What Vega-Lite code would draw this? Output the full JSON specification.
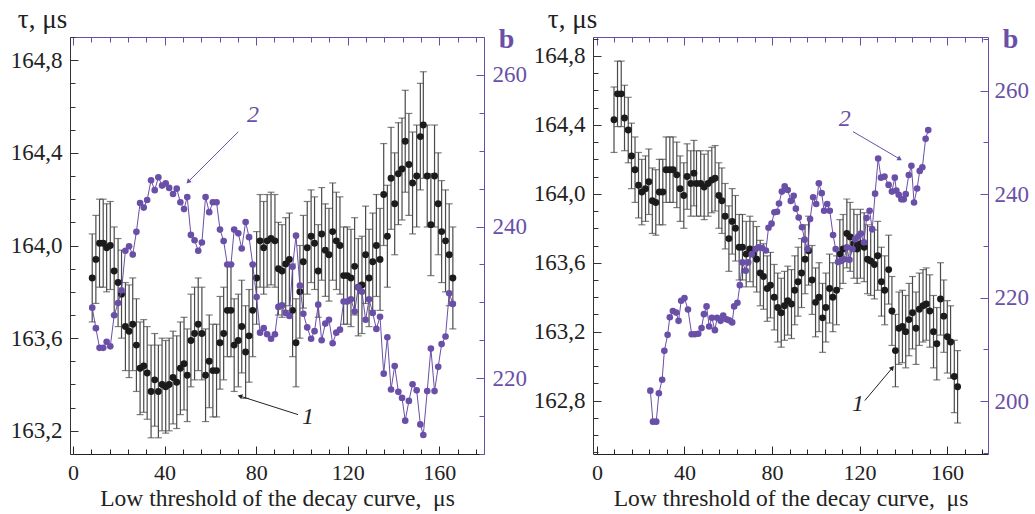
{
  "$schema": "https://vega.github.io/schema/vega-lite/v6.json",
  "padding": {"left": 10, "top": 5, "right": 5, "bottom": 5},
  "config": {
    "font": "Liberation Serif",
    "view": {"stroke": null},
    "axis": {"grid": false, "labelFont": "Liberation Serif", "labelFontSize": 22, "labelColor": "#222", "domainColor": "#333", "tickColor": "#333", "titleFont": "Liberation Serif", "titleFontSize": 23.5, "titleFontWeight": "normal", "titleColor": "#222", "labelOverlap": false, "labelFlush": false, "labelBound": false},
    "concat": {"spacing": 6}
  },
  "datasets": {
    "leftTau": [
      {"x":8.4,"tau":163.86,"err":0.19},{"x":10.0,"tau":163.94,"err":0.19},{"x":11.6,"tau":164.01,"err":0.19},{"x":13.2,"tau":164.01,"err":0.19},{"x":14.7,"tau":163.99,"err":0.19},{"x":16.3,"tau":164.00,"err":0.19},{"x":18.0,"tau":163.89,"err":0.19},{"x":19.7,"tau":163.84,"err":0.19},{"x":21.2,"tau":163.79,"err":0.19},{"x":22.9,"tau":163.65,"err":0.19},
      {"x":24.5,"tau":163.63,"err":0.2},{"x":26.1,"tau":163.66,"err":0.2},{"x":27.7,"tau":163.57,"err":0.2},{"x":29.3,"tau":163.47,"err":0.2},{"x":30.9,"tau":163.48,"err":0.2},{"x":32.4,"tau":163.45,"err":0.2},{"x":34.1,"tau":163.37,"err":0.2},{"x":35.7,"tau":163.42,"err":0.2},{"x":37.3,"tau":163.37,"err":0.2},{"x":38.9,"tau":163.40,"err":0.2},
      {"x":40.5,"tau":163.39,"err":0.2},{"x":42.0,"tau":163.40,"err":0.2},{"x":43.7,"tau":163.43,"err":0.2},{"x":45.3,"tau":163.41,"err":0.2},{"x":46.9,"tau":163.47,"err":0.2},{"x":48.5,"tau":163.49,"err":0.2},{"x":49.9,"tau":163.44,"err":0.2},{"x":51.5,"tau":163.59,"err":0.2},{"x":53.1,"tau":163.62,"err":0.2},{"x":54.7,"tau":163.66,"err":0.2},
      {"x":56.3,"tau":163.62,"err":0.2},{"x":57.9,"tau":163.44,"err":0.2},{"x":59.5,"tau":163.50,"err":0.2},{"x":61.1,"tau":163.46,"err":0.2},{"x":62.7,"tau":163.46,"err":0.2},{"x":64.2,"tau":163.58,"err":0.2},{"x":65.8,"tau":163.62,"err":0.2},{"x":67.4,"tau":163.72,"err":0.2},{"x":69.0,"tau":163.72,"err":0.2},{"x":70.4,"tau":163.57,"err":0.2},
      {"x":72.2,"tau":163.59,"err":0.2},{"x":73.7,"tau":163.65,"err":0.2},{"x":75.4,"tau":163.54,"err":0.2},{"x":76.9,"tau":163.61,"err":0.2},{"x":78.5,"tau":163.72,"err":0.2},{"x":80.2,"tau":163.86,"err":0.2},{"x":81.7,"tau":164.02,"err":0.2},{"x":83.3,"tau":163.99,"err":0.2},{"x":84.8,"tau":164.02,"err":0.2},{"x":86.5,"tau":164.03,"err":0.2},
      {"x":88.2,"tau":164.02,"err":0.2},{"x":89.7,"tau":163.90,"err":0.2},{"x":91.3,"tau":163.89,"err":0.2},{"x":92.9,"tau":163.92,"err":0.2},{"x":94.5,"tau":163.94,"err":0.2},{"x":95.9,"tau":163.72,"err":0.2},{"x":97.4,"tau":163.58,"err":0.19},{"x":99.1,"tau":163.80,"err":0.2},{"x":100.6,"tau":163.93,"err":0.2},{"x":102.3,"tau":163.99,"err":0.2},
      {"x":104.0,"tau":164.04,"err":0.2},{"x":105.5,"tau":164.01,"err":0.2},{"x":107.1,"tau":163.89,"err":0.2},{"x":108.6,"tau":164.05,"err":0.2},{"x":110.2,"tau":163.98,"err":0.2},{"x":111.8,"tau":163.96,"err":0.2},{"x":113.4,"tau":164.06,"err":0.21},{"x":115.0,"tau":164.02,"err":0.21},{"x":116.6,"tau":164.00,"err":0.21},{"x":118.2,"tau":163.87,"err":0.21},
      {"x":119.8,"tau":163.87,"err":0.21},{"x":121.4,"tau":163.86,"err":0.21},{"x":123.0,"tau":163.91,"err":0.21},{"x":124.6,"tau":163.82,"err":0.21},{"x":126.2,"tau":163.83,"err":0.21},{"x":127.8,"tau":163.96,"err":0.21},{"x":129.3,"tau":163.86,"err":0.21},{"x":130.9,"tau":163.93,"err":0.21},{"x":132.5,"tau":164.00,"err":0.22},{"x":134.1,"tau":163.94,"err":0.22},
      {"x":135.7,"tau":164.22,"err":0.22},{"x":137.3,"tau":164.04,"err":0.22},{"x":138.9,"tau":164.29,"err":0.22},{"x":140.5,"tau":164.18,"err":0.22},{"x":142.1,"tau":164.31,"err":0.22},{"x":143.7,"tau":164.33,"err":0.22},{"x":145.1,"tau":164.45,"err":0.22},{"x":146.7,"tau":164.35,"err":0.22},{"x":148.3,"tau":164.27,"err":0.22},{"x":150.1,"tau":164.30,"err":0.22},
      {"x":151.7,"tau":164.47,"err":0.23},{"x":153.0,"tau":164.52,"err":0.23},{"x":154.7,"tau":164.30,"err":0.22},{"x":156.3,"tau":164.09,"err":0.22},{"x":157.9,"tau":164.30,"err":0.22},{"x":159.5,"tau":164.18,"err":0.22},{"x":161.0,"tau":164.06,"err":0.22},{"x":162.7,"tau":164.02,"err":0.22},{"x":164.3,"tau":163.96,"err":0.22},{"x":165.9,"tau":163.86,"err":0.22}
    ],
    "leftB": [
      {"x":8.4,"b":229.3},{"x":10.0,"b":226.6},{"x":11.6,"b":224.0},{"x":13.2,"b":224.0},{"x":14.7,"b":224.8},{"x":16.3,"b":224.2},{"x":18.0,"b":228.3},{"x":19.7,"b":229.9},{"x":21.2,"b":231.6},{"x":22.9,"b":236.8},
      {"x":24.5,"b":237.4},{"x":26.1,"b":236.3},{"x":27.7,"b":239.3},{"x":29.3,"b":243.1},{"x":30.9,"b":242.5},{"x":32.4,"b":243.5},{"x":34.1,"b":246.1},{"x":35.7,"b":244.8},{"x":37.3,"b":246.5},{"x":38.9,"b":245.4},
      {"x":40.5,"b":245.7},{"x":42.0,"b":245.1},{"x":43.7,"b":244.3},{"x":45.3,"b":245.0},{"x":46.9,"b":243.2},{"x":48.5,"b":242.3},{"x":49.9,"b":243.9},{"x":51.5,"b":238.9},{"x":53.1,"b":238.2},{"x":54.7,"b":236.8},
      {"x":56.3,"b":237.9},{"x":57.9,"b":243.9},{"x":59.5,"b":241.9},{"x":61.1,"b":243.2},{"x":62.7,"b":243.2},{"x":64.2,"b":239.6},{"x":65.8,"b":238.1},{"x":67.4,"b":235.0},{"x":69.0,"b":235.0},{"x":70.4,"b":239.6},
      {"x":72.2,"b":239.1},{"x":73.7,"b":237.1},{"x":75.4,"b":240.6},{"x":76.9,"b":238.6},{"x":78.5,"b":235.0},{"x":80.2,"b":230.7},{"x":81.7,"b":226.0},{"x":83.3,"b":226.6},{"x":84.8,"b":225.8},{"x":86.5,"b":225.2},
      {"x":88.2,"b":225.8},{"x":89.7,"b":229.4},{"x":91.3,"b":229.6},{"x":92.9,"b":228.6},{"x":94.5,"b":228.2},{"x":95.9,"b":234.7},{"x":97.4,"b":238.8},{"x":99.1,"b":232.2},{"x":100.6,"b":228.5},{"x":102.3,"b":226.7},
      {"x":104.0,"b":225.2},{"x":105.5,"b":226.2},{"x":107.1,"b":229.7},{"x":108.6,"b":225.0},{"x":110.2,"b":227.2},{"x":111.8,"b":227.7},{"x":113.4,"b":224.6},{"x":115.0,"b":226.0},{"x":116.6,"b":226.4},{"x":118.2,"b":230.1},
      {"x":119.8,"b":230.1},{"x":121.4,"b":230.4},{"x":123.0,"b":228.8},{"x":124.6,"b":232.0},{"x":126.2,"b":231.4},{"x":127.8,"b":227.7},{"x":129.3,"b":230.4},{"x":130.9,"b":228.6},{"x":132.5,"b":226.5},{"x":134.1,"b":228.1},
      {"x":135.7,"b":220.6},{"x":137.3,"b":225.4},{"x":138.9,"b":218.5},{"x":140.5,"b":221.6},{"x":142.1,"b":218.2},{"x":143.7,"b":217.4},{"x":145.1,"b":214.4},{"x":146.7,"b":217.0},{"x":148.3,"b":219.2},{"x":150.1,"b":218.4},
      {"x":151.7,"b":213.9},{"x":153.0,"b":212.5},{"x":154.7,"b":218.3},{"x":156.3,"b":223.9},{"x":157.9,"b":218.3},{"x":159.5,"b":221.5},{"x":161.0,"b":224.5},{"x":162.7,"b":225.5},{"x":164.3,"b":231.2},{"x":165.9,"b":229.8}
    ],
    "rightTau": [
      {"x":7.8,"tau":164.43,"err":0.19},{"x":9.4,"tau":164.58,"err":0.19},{"x":11.1,"tau":164.58,"err":0.19},{"x":12.6,"tau":164.44,"err":0.19},{"x":14.3,"tau":164.37,"err":0.19},{"x":15.8,"tau":164.22,"err":0.19},{"x":17.4,"tau":164.14,"err":0.19},{"x":19.0,"tau":164.05,"err":0.19},{"x":20.5,"tau":164.01,"err":0.19},{"x":22.2,"tau":164.03,"err":0.19},
      {"x":23.7,"tau":164.07,"err":0.19},{"x":25.3,"tau":163.96,"err":0.19},{"x":26.9,"tau":163.95,"err":0.19},{"x":28.5,"tau":164.01,"err":0.19},{"x":30.1,"tau":164.01,"err":0.19},{"x":31.6,"tau":164.14,"err":0.19},{"x":33.3,"tau":164.14,"err":0.19},{"x":34.8,"tau":164.14,"err":0.19},{"x":36.5,"tau":164.11,"err":0.19},{"x":38.0,"tau":164.03,"err":0.19},
      {"x":39.7,"tau":163.99,"err":0.19},{"x":41.2,"tau":164.10,"err":0.19},{"x":42.9,"tau":164.06,"err":0.19},{"x":44.3,"tau":164.12,"err":0.19},{"x":45.5,"tau":164.06,"err":0.19},{"x":47.4,"tau":164.06,"err":0.19},{"x":49.0,"tau":164.04,"err":0.19},{"x":50.8,"tau":164.06,"err":0.19},{"x":52.5,"tau":164.08,"err":0.19},{"x":54.0,"tau":164.09,"err":0.19},
      {"x":55.7,"tau":163.99,"err":0.19},{"x":57.1,"tau":163.96,"err":0.19},{"x":58.6,"tau":163.87,"err":0.19},{"x":60.3,"tau":163.74,"err":0.19},{"x":61.8,"tau":163.84,"err":0.19},{"x":63.3,"tau":163.80,"err":0.19},{"x":65.0,"tau":163.69,"err":0.19},{"x":66.5,"tau":163.69,"err":0.19},{"x":68.2,"tau":163.65,"err":0.19},{"x":69.9,"tau":163.68,"err":0.19},
      {"x":71.4,"tau":163.65,"err":0.19},{"x":73.0,"tau":163.62,"err":0.19},{"x":74.6,"tau":163.54,"err":0.19},{"x":76.1,"tau":163.52,"err":0.19},{"x":77.8,"tau":163.45,"err":0.19},{"x":79.3,"tau":163.47,"err":0.19},{"x":81.0,"tau":163.40,"err":0.19},{"x":82.6,"tau":163.34,"err":0.2},{"x":84.2,"tau":163.31,"err":0.2},{"x":85.7,"tau":163.35,"err":0.2},
      {"x":87.2,"tau":163.38,"err":0.2},{"x":88.9,"tau":163.36,"err":0.2},{"x":90.4,"tau":163.44,"err":0.2},{"x":91.9,"tau":163.49,"err":0.2},{"x":93.5,"tau":163.54,"err":0.2},{"x":95.1,"tau":163.62,"err":0.2},{"x":96.7,"tau":163.67,"err":0.2},{"x":98.3,"tau":163.50,"err":0.2},{"x":99.9,"tau":163.37,"err":0.2},{"x":101.5,"tau":163.40,"err":0.2},
      {"x":103.1,"tau":163.28,"err":0.2},{"x":104.6,"tau":163.34,"err":0.2},{"x":106.3,"tau":163.45,"err":0.2},{"x":107.8,"tau":163.40,"err":0.2},{"x":109.5,"tau":163.44,"err":0.2},{"x":111.0,"tau":163.65,"err":0.2},{"x":112.5,"tau":163.68,"err":0.2},{"x":114.2,"tau":163.77,"err":0.2},{"x":115.7,"tau":163.75,"err":0.2},{"x":117.4,"tau":163.71,"err":0.2},
      {"x":118.9,"tau":163.68,"err":0.2},{"x":120.4,"tau":163.71,"err":0.2},{"x":122.1,"tau":163.69,"err":0.2},{"x":123.6,"tau":163.62,"err":0.2},{"x":125.1,"tau":163.61,"err":0.2},{"x":126.8,"tau":163.59,"err":0.2},{"x":128.3,"tau":163.64,"err":0.2},{"x":130.0,"tau":163.49,"err":0.2},{"x":131.5,"tau":163.44,"err":0.2},{"x":133.3,"tau":163.56,"err":0.2},
      {"x":134.8,"tau":163.32,"err":0.2},{"x":136.4,"tau":163.09,"err":0.21},{"x":138.0,"tau":163.22,"err":0.21},{"x":139.6,"tau":163.23,"err":0.21},{"x":141.1,"tau":163.20,"err":0.21},{"x":142.6,"tau":163.27,"err":0.21},{"x":144.2,"tau":163.31,"err":0.21},{"x":145.8,"tau":163.22,"err":0.21},{"x":147.3,"tau":163.33,"err":0.21},{"x":149.0,"tau":163.35,"err":0.21},
      {"x":150.5,"tau":163.36,"err":0.21},{"x":152.1,"tau":163.32,"err":0.21},{"x":153.8,"tau":163.20,"err":0.21},{"x":155.3,"tau":163.13,"err":0.21},{"x":157.0,"tau":163.39,"err":0.21},{"x":158.5,"tau":163.29,"err":0.21},{"x":160.1,"tau":163.17,"err":0.21},{"x":161.6,"tau":163.14,"err":0.21},{"x":163.3,"tau":162.94,"err":0.21},{"x":164.8,"tau":162.88,"err":0.21}
    ],
    "rightB": [
      {"x":24.4,"b":202.0},{"x":25.6,"b":196.0},{"x":27.1,"b":196.0},{"x":28.3,"b":201.5},{"x":29.8,"b":204.1},{"x":30.8,"b":209.7},{"x":32.3,"b":212.8},{"x":33.3,"b":216.2},{"x":34.7,"b":217.4},{"x":36.2,"b":217.1},
      {"x":37.3,"b":215.5},{"x":38.5,"b":219.4},{"x":40.0,"b":219.9},{"x":41.6,"b":217.7},{"x":43.3,"b":212.9},{"x":44.7,"b":212.9},{"x":46.3,"b":213.0},{"x":47.8,"b":214.1},{"x":48.9,"b":216.8},{"x":50.1,"b":218.3},
      {"x":51.3,"b":214.4},{"x":52.5,"b":216.1},{"x":53.9,"b":213.7},{"x":54.9,"b":216.1},{"x":56.5,"b":215.5},{"x":57.7,"b":216.5},{"x":59.2,"b":215.8},{"x":60.4,"b":215.6},{"x":61.8,"b":215.2},{"x":62.7,"b":218.3},
      {"x":64.2,"b":219.0},{"x":65.3,"b":222.4},{"x":66.5,"b":226.8},{"x":68.0,"b":225.2},{"x":69.1,"b":226.8},{"x":70.8,"b":228.4},{"x":72.5,"b":229.4},{"x":73.8,"b":229.7},{"x":75.5,"b":229.6},{"x":77.2,"b":229.1},
      {"x":78.4,"b":233.5},{"x":79.8,"b":234.3},{"x":81.1,"b":236.5},{"x":82.3,"b":236.6},{"x":83.2,"b":238.2},{"x":84.5,"b":240.5},{"x":85.8,"b":241.5},{"x":87.2,"b":240.8},{"x":88.6,"b":238.7},{"x":89.9,"b":239.7},
      {"x":90.9,"b":237.2},{"x":92.2,"b":235.5},{"x":93.7,"b":233.6},{"x":94.9,"b":231.2},{"x":96.2,"b":229.4},{"x":97.4,"b":235.2},{"x":98.8,"b":239.4},{"x":100.2,"b":238.1},{"x":101.4,"b":242.1},{"x":102.7,"b":240.2},
      {"x":103.8,"b":236.8},{"x":105.2,"b":238.1},{"x":106.4,"b":236.8},{"x":107.9,"b":232.1},{"x":109.1,"b":229.4},{"x":110.2,"b":226.9},{"x":111.6,"b":227.1},{"x":112.9,"b":227.4},{"x":114.2,"b":229.7},{"x":115.4,"b":227.3},
      {"x":116.8,"b":229.4},{"x":118.0,"b":231.3},{"x":119.4,"b":231.8},{"x":120.6,"b":232.4},{"x":122.0,"b":230.7},{"x":123.2,"b":235.4},{"x":124.6,"b":236.8},{"x":125.8,"b":233.2},{"x":127.1,"b":240.1},{"x":128.5,"b":246.9},
      {"x":129.8,"b":243.2},{"x":131.4,"b":243.4},{"x":133.3,"b":241.8},{"x":134.8,"b":240.5},{"x":136.1,"b":243.2},{"x":136.8,"b":240.7},{"x":137.9,"b":239.9},{"x":139.1,"b":239.0},{"x":140.2,"b":239.0},{"x":141.1,"b":240.0},
      {"x":142.5,"b":243.7},{"x":143.7,"b":245.5},{"x":144.9,"b":238.4},{"x":146.3,"b":241.1},{"x":147.5,"b":244.5},{"x":148.7,"b":245.2},{"x":150.2,"b":250.7},{"x":151.4,"b":252.4}
    ],
    "leftNoteTau": [{"x":102.6,"y":163.26,"x2":98.3,"y2":163.27,"x3":72.9,"y3":163.35,"label":"1"}],
    "leftNoteB": [{"x":78.6,"y":254.7,"x2":72.2,"y2":252.5,"x3":50.3,"y3":245.9,"label":"2"}],
    "rightNoteTau": [{"x":119.3,"y":162.78,"x2":122.4,"y2":162.80,"x3":135.0,"y3":162.99,"label":"1"}],
    "rightNoteB": [{"x":113.2,"y":254.5,"x2":117.0,"y2":252.1,"x3":138.4,"y3":246.8,"label":"2"}]
  },
  "hconcat": [
    {
      "width": 414,
      "height": 417,
      "layer": [
        {
          "data": {"name": "leftTau"},
          "mark": {"type": "circle", "opacity": 0},
          "encoding": {
            "x": {"field": "x", "type": "quantitative", "scale": {"domain": [-1.3, 179.5], "nice": false, "zero": false},
              "axis": {"orient": "bottom", "title": null, "labels": false, "domain": false, "values": [8,16,24,32,48,56,64,72,88,96,104,112,128,136,144,152,168,176], "tickSize": -5, "tickColor": "#222"}},
            "y": {"field": "tau", "type": "quantitative", "scale": {"domain": [163.1, 164.9], "nice": false, "zero": false},
              "axis": {"orient": "left", "title": null, "labels": false, "domain": false, "values": [163.1,163.3,163.4,163.5,163.7,163.8,163.9,164.1,164.2,164.3,164.5,164.6,164.7,164.9], "tickSize": -5}}
          }
        },
        {
          "data": {"name": "leftB"},
          "mark": {"type": "circle", "opacity": 0},
          "encoding": {
            "x": {"field": "x", "type": "quantitative",
              "axis": {"orient": "top", "title": null, "labels": false, "domain": false, "values": [8,16,24,32,48,56,64,72,88,96,104,112,128,136,144,152,168,176], "tickSize": -5, "tickColor": "#6a4fa8"}},
            "y": {"field": "b", "type": "quantitative", "scale": {"domain": [210, 265], "nice": false, "zero": false},
              "axis": {"orient": "right", "title": null, "labels": false, "domain": false, "values": [210,215,225,230,235,245,250,255,265], "tickSize": -5, "tickColor": "#6a4fa8"}}
          }
        },
        {
          "layer": [
            {
              "data": {"name": "leftTau"},
              "mark": {"type": "errorbar", "color": "#4a4a4a", "thickness": 1.2, "ticks": {"size": 7}},
              "encoding": {
                "x": {"field": "x", "type": "quantitative",
                  "axis": {"orient": "bottom", "title": "Low threshold of the decay curve,\u00a0 μs", "titlePadding": 3, "values": [0,40,80,120,160],
                    "tickSize": -8, "labelPadding": 16, "domainColor": "#222", "tickColor": "#222"}},
                "y": {"field": "tau", "type": "quantitative", "scale": {"domain": [163.1, 164.9], "nice": false, "zero": false},
                  "axis": {"orient": "left", "values": [163.2,163.6,164.0,164.4,164.8],
                    "labelExpr": "replace(format(datum.value, '.1f'), '.', ',')", "labelFontSize": 23,
                    "tickSize": -8, "labelPadding": 16,
                    "title": "τ, μs", "titleAngle": 0, "titleX": -28, "titleY": -18, "titleAlign": "center", "titleBaseline": "middle", "titleFontSize": 27}},
                "yError": {"field": "err"}
              }
            },
            {
              "data": {"name": "leftTau"},
              "mark": {"type": "circle", "size": 48, "color": "#1b1b1b", "opacity": 1},
              "encoding": {"x": {"field": "x", "type": "quantitative"}, "y": {"field": "tau", "type": "quantitative"}}
            },
            {
              "data": {"name": "leftNoteTau"},
              "mark": {"type": "text", "font": "Liberation Serif", "fontStyle": "italic", "fontSize": 24, "color": "#222"},
              "encoding": {"x": {"field": "x", "type": "quantitative"}, "y": {"field": "y", "type": "quantitative"}, "text": {"field": "label"}}
            },
            {
              "data": {"name": "leftNoteTau"},
              "mark": {"type": "rule", "color": "#222", "strokeWidth": 1},
              "encoding": {"x": {"field": "x2", "type": "quantitative"}, "y": {"field": "y2", "type": "quantitative"}, "x2": {"field": "x3"}, "y2": {"field": "y3"}}
            },
            {
              "data": {"name": "leftNoteTau"},
              "mark": {"type": "point", "shape": "triangle-up", "filled": true, "size": 28, "color": "#222", "opacity": 1, "angle": 287},
              "encoding": {"x": {"field": "x3", "type": "quantitative"}, "y": {"field": "y3", "type": "quantitative"}}
            }
          ]
        },
        {
          "layer": [
            {
              "data": {"name": "leftB"},
              "mark": {"type": "line", "color": "#6a4fa8", "strokeWidth": 1, "point": {"filled": true, "size": 44, "color": "#6a4fa8", "opacity": 1}},
              "encoding": {
                "x": {"field": "x", "type": "quantitative",
                  "axis": {"orient": "top", "title": null, "labels": false, "values": [0,40,80,120,160],
                    "tickSize": -8, "domainColor": "#6a4fa8", "tickColor": "#6a4fa8"}},
                "y": {"field": "b", "type": "quantitative", "scale": {"domain": [210, 265], "nice": false, "zero": false},
                  "axis": {"orient": "right", "values": [220,240,260],
                    "tickSize": -8, "labelPadding": 16, "labelFontSize": 23,
                    "domainColor": "#6a4fa8", "tickColor": "#6a4fa8", "labelColor": "#6a4fa8",
                    "title": "b", "titleAngle": 0, "titleX": 22, "titleY": 2, "titleAlign": "center", "titleBaseline": "middle", "titleFontSize": 28, "titleFontWeight": "bold", "titleColor": "#6a4fa8"}}
              }
            },
            {
              "data": {"name": "leftNoteB"},
              "mark": {"type": "text", "font": "Liberation Serif", "fontStyle": "italic", "fontSize": 24, "color": "#6a4fa8"},
              "encoding": {"x": {"field": "x", "type": "quantitative"}, "y": {"field": "y", "type": "quantitative"}, "text": {"field": "label"}}
            },
            {
              "data": {"name": "leftNoteB"},
              "mark": {"type": "rule", "color": "#6a4fa8", "strokeWidth": 1},
              "encoding": {"x": {"field": "x2", "type": "quantitative"}, "y": {"field": "y2", "type": "quantitative"}, "x2": {"field": "x3"}, "y2": {"field": "y3"}}
            },
            {
              "data": {"name": "leftNoteB"},
              "mark": {"type": "point", "shape": "triangle-up", "filled": true, "size": 28, "color": "#6a4fa8", "opacity": 1, "angle": 225},
              "encoding": {"x": {"field": "x3", "type": "quantitative"}, "y": {"field": "y3", "type": "quantitative"}}
            }
          ]
        }
      ],
      "resolve": {"scale": {"y": "independent"}, "axis": {"x": "independent", "y": "independent"}}
    },
    {
      "width": 395,
      "height": 417,
      "layer": [
        {
          "data": {"name": "rightTau"},
          "mark": {"type": "circle", "opacity": 0},
          "encoding": {
            "x": {"field": "x", "type": "quantitative", "scale": {"domain": [-1.8, 178.7], "nice": false, "zero": false},
              "axis": {"orient": "bottom", "title": null, "labels": false, "domain": false, "values": [8,16,24,32,48,56,64,72,88,96,104,112,128,136,144,152,168,176], "tickSize": -5, "tickColor": "#222"}},
            "y": {"field": "tau", "type": "quantitative", "scale": {"domain": [162.49, 164.91], "nice": false, "zero": false},
              "axis": {"orient": "left", "title": null, "labels": false, "domain": false, "values": [162.5,162.6,162.7,162.9,163.0,163.1,163.3,163.4,163.5,163.7,163.8,163.9,164.1,164.2,164.3,164.5,164.6,164.7,164.9], "tickSize": -5}}
          }
        },
        {
          "data": {"name": "rightB"},
          "mark": {"type": "circle", "opacity": 0},
          "encoding": {
            "x": {"field": "x", "type": "quantitative",
              "axis": {"orient": "top", "title": null, "labels": false, "domain": false, "values": [8,16,24,32,48,56,64,72,88,96,104,112,128,136,144,152,168,176], "tickSize": -5, "tickColor": "#6a4fa8"}},
            "y": {"field": "b", "type": "quantitative", "scale": {"domain": [189.75, 270.4], "nice": false, "zero": false},
              "axis": {"orient": "right", "title": null, "labels": false, "domain": false, "values": [190,210,230,250,270], "tickSize": -5, "tickColor": "#6a4fa8"}}
          }
        },
        {
          "layer": [
            {
              "data": {"name": "rightTau"},
              "mark": {"type": "errorbar", "color": "#4a4a4a", "thickness": 1.2, "ticks": {"size": 7}},
              "encoding": {
                "x": {"field": "x", "type": "quantitative",
                  "axis": {"orient": "bottom", "title": "Low threshold of the decay curve,\u00a0 μs", "titlePadding": 3, "values": [0,40,80,120,160],
                    "tickSize": -8, "labelPadding": 16, "domainColor": "#222", "tickColor": "#222"}},
                "y": {"field": "tau", "type": "quantitative", "scale": {"domain": [162.49, 164.91], "nice": false, "zero": false},
                  "axis": {"orient": "left", "values": [162.8,163.2,163.6,164.0,164.4,164.8],
                    "labelExpr": "replace(format(datum.value, '.1f'), '.', ',')", "labelFontSize": 23,
                    "tickSize": -8, "labelPadding": 16,
                    "title": "τ, μs", "titleAngle": 0, "titleX": -21, "titleY": -18, "titleAlign": "center", "titleBaseline": "middle", "titleFontSize": 27}},
                "yError": {"field": "err"}
              }
            },
            {
              "data": {"name": "rightTau"},
              "mark": {"type": "circle", "size": 48, "color": "#1b1b1b", "opacity": 1},
              "encoding": {"x": {"field": "x", "type": "quantitative"}, "y": {"field": "tau", "type": "quantitative"}}
            },
            {
              "data": {"name": "rightNoteTau"},
              "mark": {"type": "text", "font": "Liberation Serif", "fontStyle": "italic", "fontSize": 24, "color": "#222"},
              "encoding": {"x": {"field": "x", "type": "quantitative"}, "y": {"field": "y", "type": "quantitative"}, "text": {"field": "label"}}
            },
            {
              "data": {"name": "rightNoteTau"},
              "mark": {"type": "rule", "color": "#222", "strokeWidth": 1},
              "encoding": {"x": {"field": "x2", "type": "quantitative"}, "y": {"field": "y2", "type": "quantitative"}, "x2": {"field": "x3"}, "y2": {"field": "y3"}}
            },
            {
              "data": {"name": "rightNoteTau"},
              "mark": {"type": "point", "shape": "triangle-up", "filled": true, "size": 28, "color": "#222", "opacity": 1, "angle": 41},
              "encoding": {"x": {"field": "x3", "type": "quantitative"}, "y": {"field": "y3", "type": "quantitative"}}
            }
          ]
        },
        {
          "layer": [
            {
              "data": {"name": "rightB"},
              "mark": {"type": "line", "color": "#6a4fa8", "strokeWidth": 1, "point": {"filled": true, "size": 44, "color": "#6a4fa8", "opacity": 1}},
              "encoding": {
                "x": {"field": "x", "type": "quantitative",
                  "axis": {"orient": "top", "title": null, "labels": false, "values": [0,40,80,120,160],
                    "tickSize": -8, "domainColor": "#6a4fa8", "tickColor": "#6a4fa8"}},
                "y": {"field": "b", "type": "quantitative", "scale": {"domain": [189.75, 270.4], "nice": false, "zero": false},
                  "axis": {"orient": "right", "values": [200,220,240,260],
                    "tickSize": -8, "labelPadding": 14, "labelFontSize": 23,
                    "domainColor": "#6a4fa8", "tickColor": "#6a4fa8", "labelColor": "#6a4fa8",
                    "title": "b", "titleAngle": 0, "titleX": 22, "titleY": 2, "titleAlign": "center", "titleBaseline": "middle", "titleFontSize": 28, "titleFontWeight": "bold", "titleColor": "#6a4fa8"}}
              }
            },
            {
              "data": {"name": "rightNoteB"},
              "mark": {"type": "text", "font": "Liberation Serif", "fontStyle": "italic", "fontSize": 24, "color": "#6a4fa8"},
              "encoding": {"x": {"field": "x", "type": "quantitative"}, "y": {"field": "y", "type": "quantitative"}, "text": {"field": "label"}}
            },
            {
              "data": {"name": "rightNoteB"},
              "mark": {"type": "rule", "color": "#6a4fa8", "strokeWidth": 1},
              "encoding": {"x": {"field": "x2", "type": "quantitative"}, "y": {"field": "y2", "type": "quantitative"}, "x2": {"field": "x3"}, "y2": {"field": "y3"}}
            },
            {
              "data": {"name": "rightNoteB"},
              "mark": {"type": "point", "shape": "triangle-up", "filled": true, "size": 28, "color": "#6a4fa8", "opacity": 1, "angle": 120},
              "encoding": {"x": {"field": "x3", "type": "quantitative"}, "y": {"field": "y3", "type": "quantitative"}}
            }
          ]
        }
      ],
      "resolve": {"scale": {"y": "independent"}, "axis": {"x": "independent", "y": "independent"}}
    }
  ]
}
